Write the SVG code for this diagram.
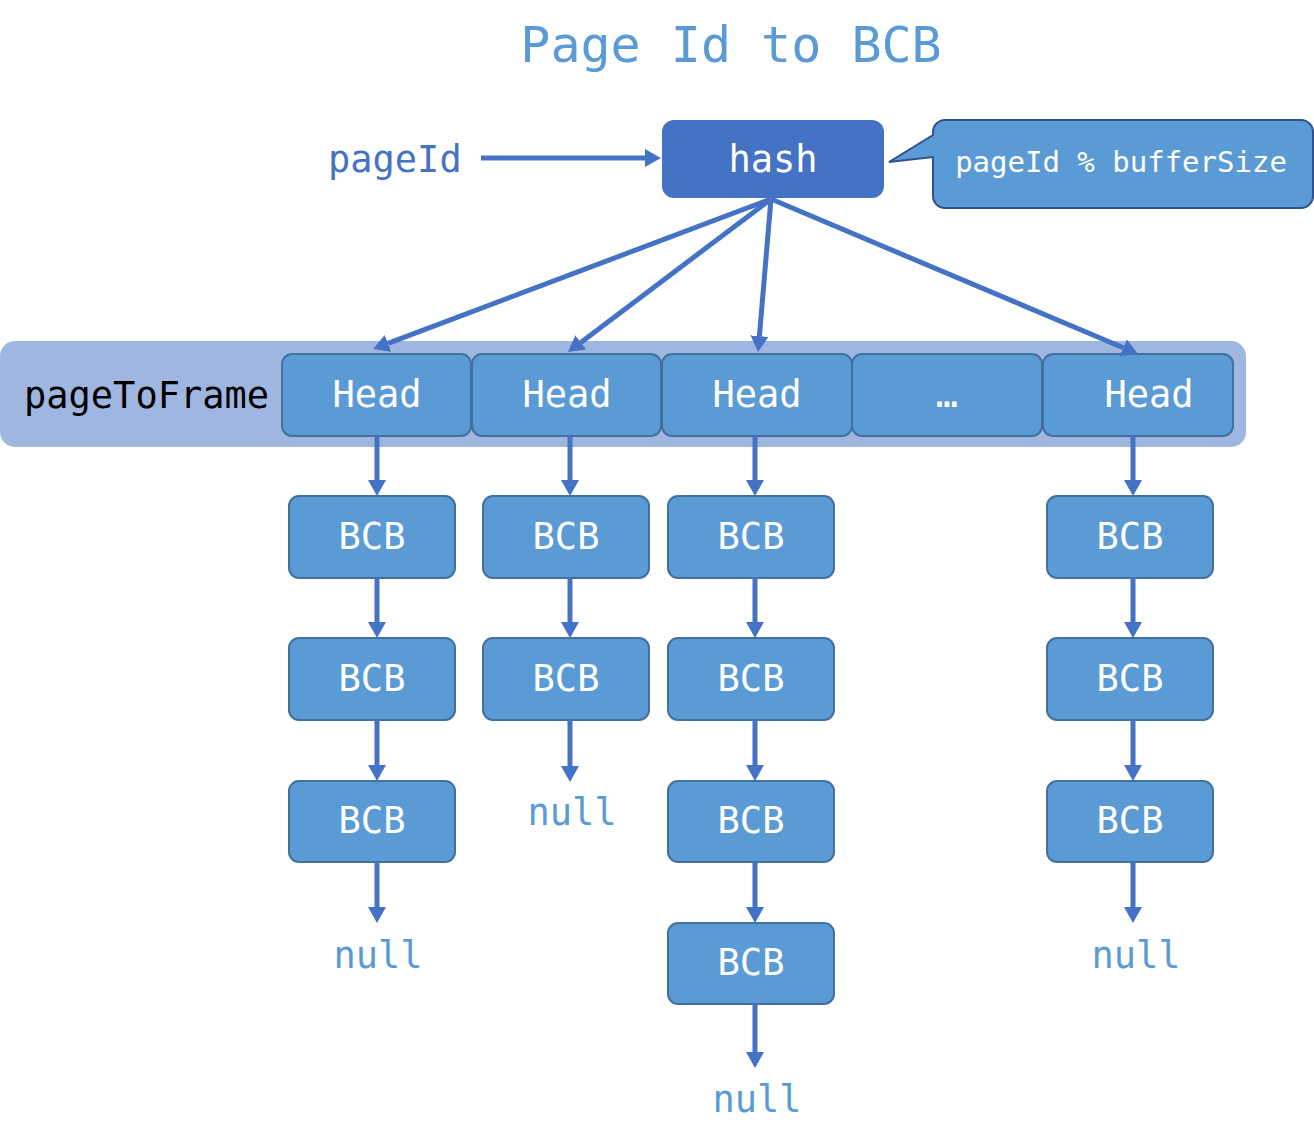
<svg xmlns="http://www.w3.org/2000/svg" width="1314" height="1145" viewBox="0 0 1314 1145">
<defs>
<style>
.mono{font-family:"DejaVu Sans Mono","Liberation Mono",monospace;}
.title{font-size:50px;fill:#5B9BD5;text-anchor:middle;}
.lbl{font-size:37px;fill:#4472C4;}
.null{font-size:37px;fill:#5B9BD5;text-anchor:middle;}
.box{fill:#5B9BD5;stroke:#41719C;stroke-width:2;}
.wt{font-size:37px;fill:#FFFFFF;text-anchor:middle;}
.conn{stroke:#4472C4;stroke-width:5;fill:none;marker-end:url(#ah);}
</style>
<marker id="ah" markerUnits="userSpaceOnUse" markerWidth="16" markerHeight="18" refX="0" refY="9" orient="auto" viewBox="0 0 16 18">
<path d="M0,0 L16,9 L0,18 z" fill="#4472C4"/>
</marker>
</defs>
<rect width="1314" height="1145" fill="#FFFFFF"/>
<text class="mono title" x="731" y="62">Page Id to BCB</text>
<g id="pageId"><text class="mono lbl" x="328" y="172">pageId</text></g>
<g id="hash">
<rect x="662" y="120" width="222" height="78" rx="12" fill="#4472C4"/>
<text class="mono wt" x="773" y="172">hash</text>
</g>
<g id="callout">
<path d="M945,120 H1301 A12,12 0 0 1 1313,132 V196 A12,12 0 0 1 1301,208 H945 A12,12 0 0 1 933,196 V157 L889,162 L933,135 V132 A12,12 0 0 1 945,120 Z" fill="#5B9BD5" stroke="#2F528F" stroke-width="2"/>
<text class="mono" x="1121" y="172" font-size="29" fill="#FFFFFF" text-anchor="middle">pageId % bufferSize</text>
</g>
<g id="pageToFrame">
<rect x="0" y="341" width="1246" height="106" rx="15" fill="#9FB6E0"/>
<text class="mono" x="24" y="408" font-size="37" fill="#000000">pageToFrame</text>
</g>
<g id="head1"><rect class="box" x="282" y="354" width="189" height="82" rx="10"/><text class="mono wt" x="377" y="407">Head</text></g>
<g id="head2"><rect class="box" x="472" y="354" width="189" height="82" rx="10"/><text class="mono wt" x="567" y="407">Head</text></g>
<g id="head3"><rect class="box" x="662" y="354" width="190" height="82" rx="10"/><text class="mono wt" x="757" y="407">Head</text></g>
<g id="head4"><rect class="box" x="852" y="354" width="190" height="82" rx="10"/><text class="mono wt" x="947" y="407">…</text></g>
<g id="head5"><rect class="box" x="1043" y="354" width="190" height="82" rx="10"/><text class="mono wt" x="1149" y="407">Head</text></g>

<g id="bcb1a"><rect class="box" x="289" y="496" width="166" height="82" rx="10"/><text class="mono wt" x="372" y="549">BCB</text></g>
<g id="bcb1b"><rect class="box" x="289" y="638" width="166" height="82" rx="10"/><text class="mono wt" x="372" y="691">BCB</text></g>
<g id="bcb1c"><rect class="box" x="289" y="781" width="166" height="81" rx="10"/><text class="mono wt" x="372" y="833">BCB</text></g>
<g id="bcb2a"><rect class="box" x="483" y="496" width="166" height="82" rx="10"/><text class="mono wt" x="566" y="549">BCB</text></g>
<g id="bcb2b"><rect class="box" x="483" y="638" width="166" height="82" rx="10"/><text class="mono wt" x="566" y="691">BCB</text></g>
<g id="bcb3a"><rect class="box" x="668" y="496" width="166" height="82" rx="10"/><text class="mono wt" x="751" y="549">BCB</text></g>
<g id="bcb3b"><rect class="box" x="668" y="638" width="166" height="82" rx="10"/><text class="mono wt" x="751" y="691">BCB</text></g>
<g id="bcb3c"><rect class="box" x="668" y="781" width="166" height="81" rx="10"/><text class="mono wt" x="751" y="833">BCB</text></g>
<g id="bcb3d"><rect class="box" x="668" y="923" width="166" height="81" rx="10"/><text class="mono wt" x="751" y="975">BCB</text></g>
<g id="bcb5a"><rect class="box" x="1047" y="496" width="166" height="82" rx="10"/><text class="mono wt" x="1130" y="549">BCB</text></g>
<g id="bcb5b"><rect class="box" x="1047" y="638" width="166" height="82" rx="10"/><text class="mono wt" x="1130" y="691">BCB</text></g>
<g id="bcb5c"><rect class="box" x="1047" y="781" width="166" height="81" rx="10"/><text class="mono wt" x="1130" y="833">BCB</text></g>

<g id="null1"><text class="mono null" x="378" y="968">null</text></g>
<g id="null2"><text class="mono null" x="572" y="825">null</text></g>
<g id="null3"><text class="mono null" x="757" y="1112">null</text></g>
<g id="null5"><text class="mono null" x="1136" y="968">null</text></g>

<g id="connectors">
<line class="conn" x1="481" y1="158" x2="645" y2="158"/>
<line class="conn" x1="771" y1="199" x2="388" y2="343.4"/>
<line class="conn" x1="771" y1="199" x2="580.8" y2="342.4"/>
<line class="conn" x1="771" y1="199" x2="759.4" y2="336.1"/>
<line class="conn" x1="771" y1="199" x2="1123.3" y2="347.8"/>

<line class="conn" x1="377" y1="436" x2="377" y2="480"/>
<line class="conn" x1="377" y1="578" x2="377" y2="622"/>
<line class="conn" x1="377" y1="720" x2="377" y2="765"/>
<line class="conn" x1="377" y1="862" x2="377" y2="907"/>

<line class="conn" x1="570" y1="436" x2="570" y2="480"/>
<line class="conn" x1="570" y1="578" x2="570" y2="622"/>
<line class="conn" x1="570" y1="720" x2="570" y2="766"/>

<line class="conn" x1="755" y1="436" x2="755" y2="480"/>
<line class="conn" x1="755" y1="578" x2="755" y2="622"/>
<line class="conn" x1="755" y1="720" x2="755" y2="765"/>
<line class="conn" x1="755" y1="862" x2="755" y2="907"/>
<line class="conn" x1="755" y1="1004" x2="755" y2="1052"/>

<line class="conn" x1="1133" y1="436" x2="1133" y2="480"/>
<line class="conn" x1="1133" y1="578" x2="1133" y2="622"/>
<line class="conn" x1="1133" y1="720" x2="1133" y2="765"/>
<line class="conn" x1="1133" y1="862" x2="1133" y2="907"/>
</g>
</svg>
